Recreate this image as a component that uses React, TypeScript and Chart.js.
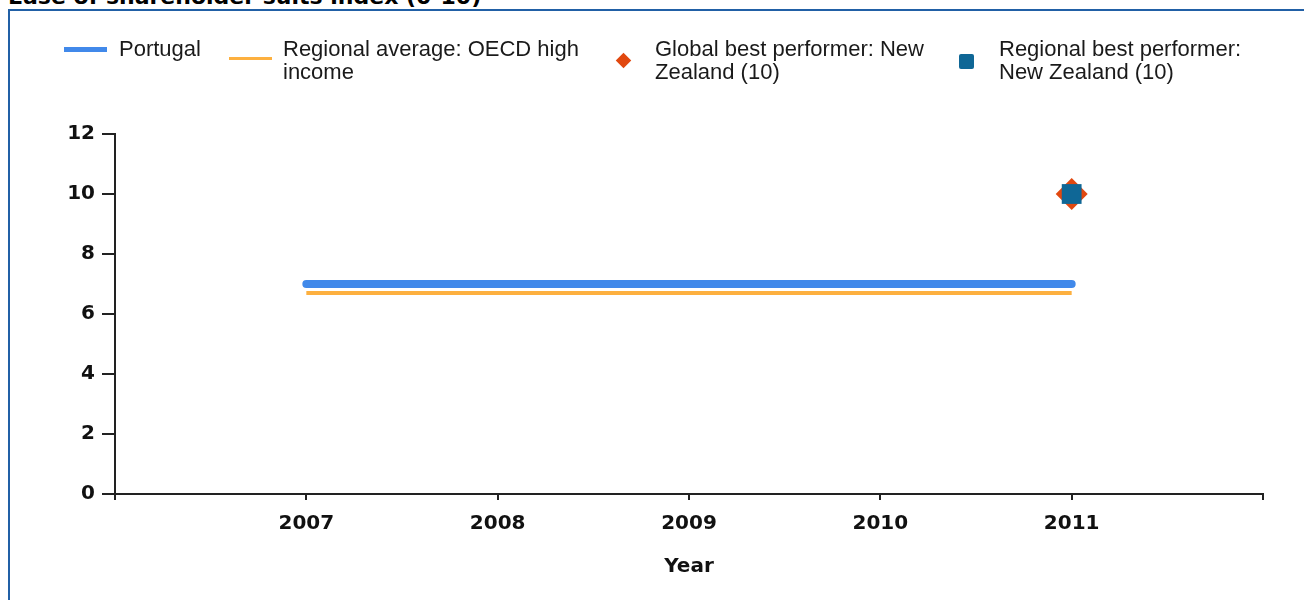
import React, { useEffect, useRef } from "react";
import { Chart, registerables } from "chart.js";

Chart.register(...registerables);

const title = "Ease of shareholder suits index (0-10)";
const years = [2007, 2008, 2009, 2010, 2011];
const portugal = [7, 7, 7, 7, 7];
const regionalAvg = [6.7, 6.7, 6.7, 6.7, 6.7];
const globalBestYear = [2011];
const globalBest = [10];
const regionalBestYear = [2011];
const regionalBest = [10];
const legendLabels = [
  ["Portugal"],
  ["Regional average: OECD high", "income"],
  ["Global best performer: New", "Zealand (10)"],
  ["Regional best performer:", "New Zealand (10)"],
];
const xAxisTitle = "Year";

const BLUE = "#4189EA";
const ORANGE = "#FDB03F";
const RED = "#E1480F";
const TEAL = "#0F6796";
const AXIS = "#222222";
const TICK_FONT = { family: "'DejaVu Sans', Verdana, sans-serif", size: 20, weight: "bold" as const };

export default function App() {
  const ref = useRef<HTMLCanvasElement | null>(null);

  useEffect(() => {
    if (!ref.current) return;
    const chart = new Chart(ref.current, {
      type: "line",
      data: {
        datasets: [
          {
            label: legendLabels[3].join(" "),
            type: "scatter",
            data: regionalBestYear.map((x, i) => ({ x, y: regionalBest[i] })),
            pointStyle: "rect",
            pointRadius: 14,
            backgroundColor: TEAL,
            borderColor: TEAL,
            borderWidth: 0,
            order: 0,
          },
          {
            label: legendLabels[2].join(" "),
            type: "scatter",
            data: globalBestYear.map((x, i) => ({ x, y: globalBest[i] })),
            pointStyle: "rectRot",
            pointRadius: 16,
            backgroundColor: RED,
            borderColor: RED,
            borderWidth: 0,
            order: 1,
          },
          {
            label: legendLabels[0].join(" "),
            data: years.map((x, i) => ({ x, y: portugal[i] })),
            borderColor: BLUE,
            backgroundColor: BLUE,
            borderWidth: 8,
            borderCapStyle: "round",
            pointRadius: 0,
            tension: 0,
            order: 2,
          },
          {
            label: legendLabels[1].join(" "),
            data: years.map((x, i) => ({ x, y: regionalAvg[i] })),
            borderColor: ORANGE,
            backgroundColor: ORANGE,
            borderWidth: 4,
            pointRadius: 0,
            tension: 0,
            order: 3,
          },
        ],
      },
      options: {
        animation: false,
        responsive: false,
        devicePixelRatio: 1,
        layout: { padding: { top: 134, right: 41, left: 0, bottom: 0 } },
        plugins: { legend: { display: false }, tooltip: { enabled: false } },
        scales: {
          x: {
            type: "linear",
            min: 2006,
            max: 2012,
            afterFit: (s: any) => {
              s.height = 106;
            },
            ticks: {
              stepSize: 1,
              autoSkip: false,
              maxRotation: 0,
              padding: 12,
              color: "#111",
              font: TICK_FONT,
              callback: (v: any) => (v === 2006 || v === 2012 ? "" : String(v)),
            },
            grid: {
              drawOnChartArea: false,
              drawTicks: true,
              tickLength: 6,
              color: AXIS,
              lineWidth: 2,
            },
            border: { display: true, color: AXIS, width: 2 },
            title: {
              display: true,
              text: xAxisTitle,
              color: "#111",
              font: TICK_FONT,
              padding: { top: 0, bottom: 21 },
            },
          },
          y: {
            min: 0,
            max: 12,
            afterFit: (s: any) => {
              s.width = 115;
            },
            ticks: {
              stepSize: 2,
              padding: 7,
              color: "#111",
              font: TICK_FONT,
            },
            grid: {
              drawOnChartArea: false,
              drawTicks: true,
              tickLength: 13,
              color: AXIS,
              lineWidth: 2,
            },
            border: { display: true, color: AXIS, width: 2 },
          },
        },
      },
    });
    return () => chart.destroy();
  }, []);

  const textStyle: React.CSSProperties = {
    position: "absolute",
    top: 37,
    fontFamily: "'Liberation Sans', Arial, sans-serif",
    fontSize: 22,
    lineHeight: "23px",
    color: "#1a1a1a",
    whiteSpace: "nowrap",
  };

  return (
    <div
      style={{
        position: "fixed",
        left: 0,
        top: 0,
        width: 1304,
        height: 600,
        overflow: "hidden",
        background: "#fff",
      }}
    >
      <div
        style={{
          position: "absolute",
          left: 8,
          top: -14,
          fontFamily: "'DejaVu Sans', Verdana, sans-serif",
          fontWeight: "bold",
          fontSize: 22,
          lineHeight: "22px",
          color: "#000",
          whiteSpace: "nowrap",
        }}
      >
        {title}
      </div>
      <div
        style={{
          position: "absolute",
          left: 8,
          top: 9,
          width: 1400,
          height: 700,
          borderLeft: "2px solid #2160A6",
          borderTop: "2px solid #2160A6",
        }}
      />
      <canvas ref={ref} width={1304} height={600} style={{ position: "absolute", left: 0, top: 0 }} />
      {/* legend */}
      <div style={{ position: "absolute", left: 64, top: 47, width: 43, height: 5, background: BLUE }} />
      <div style={{ ...textStyle, left: 119 }}>
        {legendLabels[0].map((l, i) => (
          <div key={i}>{l}</div>
        ))}
      </div>
      <div style={{ position: "absolute", left: 229, top: 57, width: 43, height: 3, background: ORANGE }} />
      <div style={{ ...textStyle, left: 283 }}>
        {legendLabels[1].map((l, i) => (
          <div key={i}>{l}</div>
        ))}
      </div>
      <div
        style={{
          position: "absolute",
          left: 618,
          top: 55,
          width: 11,
          height: 11,
          background: RED,
          transform: "rotate(45deg)",
        }}
      />
      <div style={{ ...textStyle, left: 655 }}>
        {legendLabels[2].map((l, i) => (
          <div key={i}>{l}</div>
        ))}
      </div>
      <div
        style={{
          position: "absolute",
          left: 959,
          top: 54,
          width: 15,
          height: 15,
          borderRadius: 2,
          background: TEAL,
        }}
      />
      <div style={{ ...textStyle, left: 999 }}>
        {legendLabels[3].map((l, i) => (
          <div key={i}>{l}</div>
        ))}
      </div>
    </div>
  );
}
